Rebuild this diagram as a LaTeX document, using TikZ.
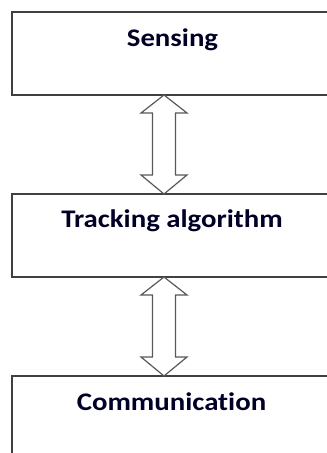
\documentclass[tikz,border=0pt]{standalone}
\usepackage{graphicx}
\usepackage{fontspec}
\setmainfont{Carlito}[Ligatures=NoCommon]
\usetikzlibrary{calc}
\newcommand{\squat}[1]{\scalebox{1}[0.88]{#1}}
\begin{document}
\begin{tikzpicture}[x=0.75pt,y=-0.75pt,
  stage/.style={draw=black!75, line width=1.1pt, rectangle, anchor=north west,
    inner sep=0pt, outer sep=0pt, minimum width=246pt},
  lbl/.style={font=\fontsize{21.6}{26}\selectfont\bfseries, text=black!85!blue,
    inner sep=0pt, anchor=base},
  flow/.style={draw=black!65, line width=0.9pt, fill=white, line join=miter}]
\useasboundingbox (0,0) rectangle (327,453);
\clip (0,0) rectangle (327,453);

% the three stages
\node[stage, minimum height=62.25pt] (b1) at (12,12) {};
\node[stage, minimum height=62.25pt] (b2) at (12,194) {};
\node[stage, minimum height=80pt] (b3) at (12,376) {};

\node[lbl] (t1) at (172.5,47) {\squat{Sensing}};
\node[lbl] (t2) at (172,227) {\squat{Tracking algorithm}};
\node[lbl] (t3) at (171.5,410) {\squat{Communication}};

% two-way block arrows between the stages
\coordinate (u1) at (164,0 |- b1.south);
\coordinate (d1) at (164,0 |- b2.north);
\coordinate (u2) at (164,0 |- b2.south);
\coordinate (d2) at (164,0 |- b3.north);

\foreach \p/\q in {u1/d1, u2/d2}{
  \draw[flow] (\p) -- ++(23,18) -- ++(-11.5,0) -- ($(\q)+(11.5,-19)$)
    -- ++(11.5,0) -- (\q) -- ++(-23,-19) -- ++(11.5,0)
    -- ($(\p)+(-11.5,18)$) -- ++(-11.5,0) -- cycle;
}
\end{tikzpicture}
\end{document}
